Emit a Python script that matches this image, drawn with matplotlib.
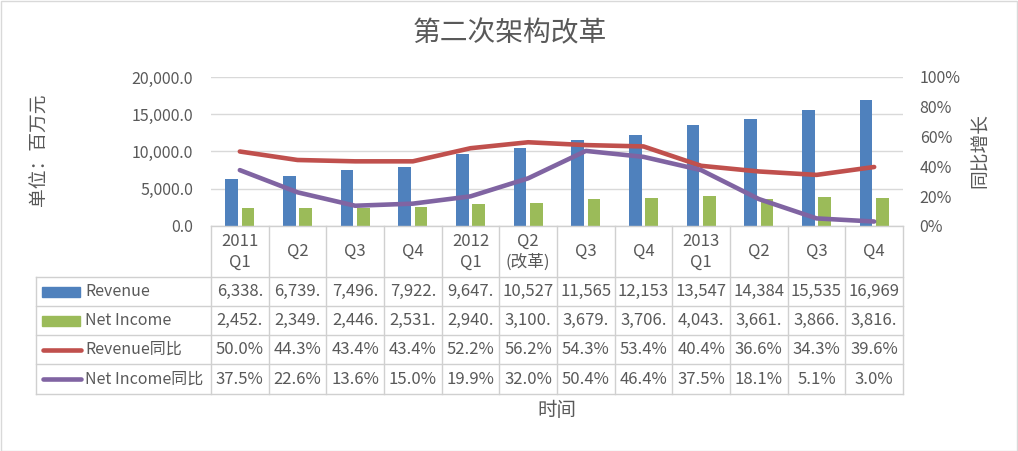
import numpy as np
import matplotlib
matplotlib.use('Agg')
import matplotlib.pyplot as plt
from matplotlib.patches import Rectangle
from matplotlib.transforms import blended_transform_factory
from matplotlib.ticker import FuncFormatter

plt.rcParams['font.family'] = ['Noto Sans CJK SC', 'DejaVu Sans']

# data
quarters = ['2011\nQ1', 'Q2', 'Q3', 'Q4', '2012\nQ1', 'Q2\n(改革)',
            'Q3', 'Q4', '2013\nQ1', 'Q2', 'Q3', 'Q4']
revenue = [6338, 6739, 7496, 7922, 9647, 10527, 11565, 12153, 13547, 14384, 15535, 16969]
net_income = [2452, 2349, 2446, 2531, 2940, 3100, 3679, 3706, 4043, 3661, 3866, 3816]
revenue_yoy = [0.500, 0.443, 0.434, 0.434, 0.522, 0.562, 0.543, 0.534, 0.404, 0.366, 0.343, 0.396]
ni_yoy = [0.375, 0.226, 0.136, 0.150, 0.199, 0.320, 0.504, 0.464, 0.375, 0.181, 0.051, 0.030]
series_names = ['Revenue', 'Net Income', 'Revenue同比', 'Net Income同比']

blue = '#4F81BD'
green = '#9BBB59'
red = '#C0504D'
purple = '#8064A2'
txt = '#595959'
grid = '#D9D9D9'
tline = '#D0D0D0'

W, H = 1018, 451
fig = plt.figure(figsize=(W / 100, H / 100), dpi=100)

# plot area in pixels
left, right, top, bottom = 211, 903, 77, 226
ax = fig.add_axes([left / W, 1 - bottom / H, (right - left) / W, (bottom - top) / H])
ax2 = ax.twinx()

x = np.arange(len(quarters))
ax.bar(x - 0.14, revenue, width=0.22, color=blue, zorder=2)
ax.bar(x + 0.14, net_income, width=0.22, color=green, zorder=2)
ax2.plot(x, revenue_yoy, color=red, lw=3.3, solid_capstyle='round', solid_joinstyle='round')
ax2.plot(x, ni_yoy, color=purple, lw=3.3, solid_capstyle='round', solid_joinstyle='round')

ax.set_xlim(-0.5, len(quarters) - 0.5)
ax.set_ylim(0, 20000)
ax.set_yticks(np.arange(0, 20001, 5000))
ax.yaxis.set_major_formatter(FuncFormatter(lambda v, p: f'{v:,.1f}'))
ax.grid(axis='y', color=grid, lw=1, zorder=0)
ax.set_axisbelow(True)
ax.set_xticks([])
ax2.set_ylim(0, 1)
ax2.set_yticks(np.arange(0, 1.01, 0.2))
ax2.yaxis.set_major_formatter(FuncFormatter(lambda v, p: f'{v:.0%}'))
for a in (ax, ax2):
    for s in a.spines.values():
        s.set_visible(False)
ax.tick_params(axis='y', length=0, pad=13, labelsize=11.5, labelcolor=txt)
ax2.tick_params(axis='y', length=0, pad=12, labelsize=11.5, labelcolor=txt)

# data table below the plot
t_left, t_bottom = 36, 394
rows = [226, 277, 306, 335, 364, 394]
tab = fig.add_axes([t_left / W, 1 - t_bottom / H, (right - t_left) / W, (t_bottom - bottom) / H])
tab.set_xlim(t_left, right)
tab.set_ylim(t_bottom, bottom)
tab.axis('off')
tr = blended_transform_factory(ax.transData, tab.transData)

n = len(quarters)
# horizontal lines
tab.plot([left, right], [rows[0]] * 2, color=tline, lw=1, clip_on=False)
for yy in rows[1:]:
    tab.plot([t_left, right], [yy, yy], color=tline, lw=1, clip_on=False)
# vertical lines
for k in range(n + 1):
    tab.plot([k - 0.5, k - 0.5], [rows[0], rows[-1]], color=tline, lw=1,
             transform=tr, clip_on=False)
tab.plot([t_left, t_left], [rows[1], rows[-1]], color=tline, lw=1, clip_on=False)

fs = 12
for i, q in enumerate(quarters):
    tab.text(i, (rows[0] + rows[1]) / 2, q, transform=tr, ha='center', va='center',
             fontsize=fs, color=txt, linespacing=1.3)

table_vals = [
    [f'{v:,.1f}'[:6] for v in revenue],
    [f'{v:,.1f}'[:6] for v in net_income],
    [f'{v:.1%}' for v in revenue_yoy],
    [f'{v:.1%}' for v in ni_yoy],
]
for r, vals in enumerate(table_vals):
    yc = (rows[r + 1] + rows[r + 2]) / 2
    for i, s in enumerate(vals):
        tab.text(i, yc, s, transform=tr, ha='center', va='center', fontsize=fs, color=txt)
    tab.text(85, yc, series_names[r], ha='left', va='center', fontsize=11.5, color=txt)

# legend keys in the table
for r, c in enumerate([blue, green]):
    yc = (rows[r + 1] + rows[r + 2]) / 2
    tab.add_patch(Rectangle((42, yc - 5), 38, 10, color=c, clip_on=False))
for r, c in zip([2, 3], [red, purple]):
    yc = (rows[r + 1] + rows[r + 2]) / 2
    tab.plot([43, 81], [yc, yc], color=c, lw=3.3, solid_capstyle='round', clip_on=False)

# titles
fig.text(510 / W, 1 - 33 / H, '第二次架构改革', ha='center', va='center', fontsize=20, color=txt)
fig.text(557 / W, 1 - 410 / H, '时间', ha='center', va='center', fontsize=14, color=txt)
fig.text(39 / W, 1 - 150 / H, '单位：百万元', ha='center', va='center', rotation=90,
         fontsize=13.5, color=txt)
fig.text(980 / W, 1 - 151 / H, '同比增长', ha='center', va='center', rotation=90,
         fontsize=13.5, color=txt)

fig.patches.append(Rectangle((0.5 / W, 0.5 / H), 1 - 1.5 / W, 1 - 1.5 / H, transform=fig.transFigure,
                             fill=False, edgecolor=grid, lw=1))

fig.savefig('out.png', dpi=100)
